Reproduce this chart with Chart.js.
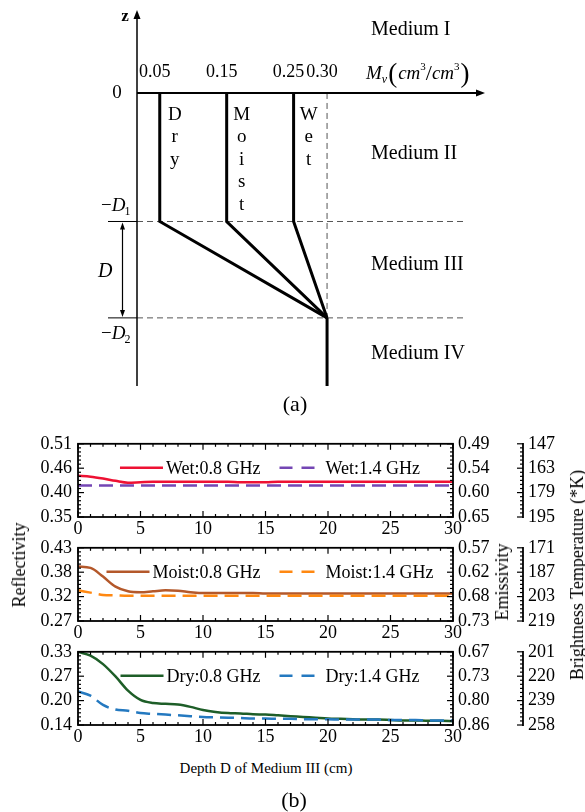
<!DOCTYPE html>
<html><head><meta charset="utf-8">
<script src="https://cdn.jsdelivr.net/npm/chart.js@4.4.1/dist/chart.umd.min.js"></script>
<style>
html,body{margin:0;padding:0;background:#fff;}
#wrap{position:relative;width:585px;height:812px;overflow:hidden;font-family:"Liberation Serif","Times New Roman",Times,serif;color:#000;background:#fff;}
canvas{position:absolute;left:0;}
.lbl{position:absolute;white-space:nowrap;transform:translate(-50%,-50%);line-height:1;}
.rot{transform:translate(-50%,-50%) rotate(-90deg);}
.pre{position:absolute;left:-999px;top:0;}
</style></head>
<body><div id="wrap">
<span class="pre" style="font-size:18px">0.51 Medium</span><span class="pre" style="font-size:18px;font-style:italic">M D</span><span class="pre" style="font-size:18px;font-weight:bold">z</span>
<canvas id="cA" style="top:0px;width:585px;height:420px" width="585" height="420"></canvas>
<canvas id="c1" style="top:427px;width:585px;height:112px" width="585" height="112"></canvas>
<canvas id="c2" style="top:531px;width:585px;height:112px" width="585" height="112"></canvas>
<canvas id="c3" style="top:635px;width:585px;height:112px" width="585" height="112"></canvas>
<div class="lbl" style="left:295px;top:404px;font-size:22px">(a)</div>
<div class="lbl rot" style="left:19px;top:565px;font-size:18px">Reflectivity</div>
<div class="lbl rot" style="left:502px;top:582px;font-size:18px">Emissivity</div>
<div class="lbl rot" style="left:577px;top:575px;font-size:18px">Brightness Temperature (*K)</div>
<div class="lbl" style="left:266px;top:768px;font-size:15px">Depth D of Medium III (cm)</div>
<div class="lbl" style="left:294px;top:800px;font-size:22px">(b)</div>
</div>
<script>
const FONT = '"Liberation Serif","Times New Roman",Times,serif';

// ---------------- (a) schematic data ----------------
const mvTickValues = [0.05, 0.15, 0.25, 0.30];
const mvTickLabels = ['0.05', '0.15', '0.25', '0.30'];
const profileNames = ['Dry', 'Moist', 'Wet'];
const profileMv = [0.05, 0.15, 0.25];
const deepMv = 0.30;
const depthLevels = [0, -1, -1.75, -2.28];   // surface, -D1, -D2, bottom of sketch
const mediumNames = ['Medium I', 'Medium II', 'Medium III', 'Medium IV'];

// ---------------- (b) data ----------------
const depthCm = [0,1,2,3,4,5,6,7,8,9,10,11,12,13,14,15,16,17,18,19,20,21,22,23,24,25,26,27,28,29,30];
const xTickValues = [0,5,10,15,20,25,30];
const xTickLabels = ['0','5','10','15','20','25','30'];

const wet08 = [0.440,0.438,0.434,0.429,0.425,0.426,0.427,0.427,0.427,0.427,0.427,0.427,0.427,0.426,0.426,0.426,0.427,0.427,0.427,0.427,0.427,0.427,0.427,0.427,0.427,0.427,0.427,0.427,0.427,0.427,0.427];
const wet14 = [0.419,0.419,0.419,0.419,0.419,0.419,0.419,0.419,0.419,0.419,0.419,0.419,0.419,0.419,0.419,0.419,0.419,0.419,0.419,0.419,0.419,0.419,0.419,0.419,0.419,0.419,0.419,0.419,0.419,0.419,0.419];
const moist08 = [0.389,0.386,0.367,0.345,0.335,0.333,0.335,0.337,0.336,0.333,0.331,0.331,0.331,0.331,0.331,0.330,0.330,0.330,0.330,0.330,0.330,0.330,0.330,0.330,0.330,0.330,0.330,0.330,0.330,0.330,0.330];
const moist14 = [0.337,0.332,0.327,0.326,0.325,0.325,0.325,0.325,0.325,0.325,0.325,0.325,0.325,0.325,0.325,0.325,0.325,0.325,0.325,0.325,0.325,0.325,0.325,0.325,0.325,0.325,0.325,0.325,0.325,0.325,0.325];
const dry08 = [0.330,0.320,0.298,0.266,0.229,0.205,0.197,0.195,0.193,0.187,0.179,0.174,0.171,0.170,0.168,0.167,0.165,0.163,0.161,0.159,0.157,0.156,0.155,0.154,0.154,0.153,0.152,0.152,0.151,0.151,0.150];
const dry14 = [0.227,0.216,0.192,0.180,0.177,0.171,0.169,0.167,0.165,0.163,0.161,0.160,0.159,0.158,0.157,0.157,0.156,0.156,0.155,0.155,0.155,0.154,0.154,0.154,0.154,0.153,0.153,0.153,0.152,0.152,0.152];

const reflRange = [[0.35,0.51],[0.27,0.43],[0.14,0.33]];
const reflTickLabels = [['0.51','0.46','0.40','0.35'],['0.43','0.38','0.32','0.27'],['0.33','0.27','0.20','0.14']];
const emisRange = [[0.49,0.65],[0.57,0.73],[0.67,0.86]];
const emisTickLabels = [['0.49','0.54','0.60','0.65'],['0.57','0.62','0.68','0.73'],['0.67','0.73','0.80','0.86']];
const btRange = [[147,195],[171,219],[201,258]];
const btTickLabels = [['147','163','179','195'],['171','187','203','219'],['201','220','239','258']];

const moistureNames = ['Wet','Moist','Dry'];
const freqLabels = ['0.8 GHz','1.4 GHz'];
const colors08 = ['#ee1133','#b4582a','#1e5e28'];
const colors14 = ['#7446b4','#ff8811','#2479c0'];
const series08 = [wet08, moist08, dry08];
const series14 = [wet14, moist14, dry14];

// ---------------- helpers ----------------
function line(ctx, x1, y1, x2, y2) { ctx.beginPath(); ctx.moveTo(x1, y1); ctx.lineTo(x2, y2); ctx.stroke(); }
function arrowHead(ctx, x, y, dir, len, half) {
  ctx.beginPath();
  if (dir === 'up') { ctx.moveTo(x, y); ctx.lineTo(x - half, y + len); ctx.lineTo(x + half, y + len); }
  if (dir === 'down') { ctx.moveTo(x, y); ctx.lineTo(x - half, y - len); ctx.lineTo(x + half, y - len); }
  if (dir === 'right') { ctx.moveTo(x, y); ctx.lineTo(x - len, y - half); ctx.lineTo(x - len, y + half); }
  ctx.closePath(); ctx.fill();
}

// ---------------- (a) plugin ----------------
const diagramPlugin = {
  id: 'diagram',
  beforeDatasetsDraw(chart) {
    const ctx = chart.ctx, a = chart.chartArea, xs = chart.scales.x, ys = chart.scales.y;
    ctx.save();
    const yD1 = ys.getPixelForValue(depthLevels[1]);
    const yD2 = ys.getPixelForValue(depthLevels[2]);
    const y0 = ys.getPixelForValue(depthLevels[0]);
    const xDeep = xs.getPixelForValue(deepMv);
    ctx.strokeStyle = '#000'; ctx.lineWidth = 1;
    line(ctx, 108, yD1, a.left, yD1);
    line(ctx, 108, yD2, a.left, yD2);
    ctx.strokeStyle = '#555'; ctx.setLineDash([6, 4]);
    line(ctx, a.left, yD1, 464, yD1);
    line(ctx, a.left, yD2, 464, yD2);
    line(ctx, xDeep, y0, xDeep, yD2);
    ctx.setLineDash([]);
    ctx.restore();
  },
  afterDatasetsDraw(chart) {
    const ctx = chart.ctx, a = chart.chartArea, xs = chart.scales.x, ys = chart.scales.y;
    ctx.save();
    ctx.fillStyle = '#000'; ctx.strokeStyle = '#000';
    const y0 = ys.getPixelForValue(depthLevels[0]);
    const yD1 = ys.getPixelForValue(depthLevels[1]);
    const yD2 = ys.getPixelForValue(depthLevels[2]);
    ctx.lineWidth = 1.5;
    line(ctx, a.left, a.bottom, a.left, a.top + 6);
    arrowHead(ctx, a.left, a.top - 2, 'up', 9, 3.5);
    ctx.lineWidth = 2;
    line(ctx, a.left, y0, a.right - 6, y0);
    arrowHead(ctx, a.right, y0, 'right', 9, 3.5);
    ctx.lineWidth = 1.2;
    line(ctx, 122.5, yD1 + 6, 122.5, yD2 - 6);
    arrowHead(ctx, 122.5, yD1 + 1, 'up', 7, 2.5);
    arrowHead(ctx, 122.5, yD2 - 1, 'down', 7, 2.5);
    ctx.textBaseline = 'middle';
    ctx.textAlign = 'center';
    ctx.font = 'bold 17px ' + FONT;
    ctx.fillText('z', 125, 17);
    ctx.font = '19px ' + FONT;
    ctx.fillText('0', 117, y0);
    ctx.font = '18px ' + FONT;
    mvTickValues.forEach((v, i) => ctx.fillText(mvTickLabels[i], xs.getPixelForValue(v) - 5, 72));
    ctx.textAlign = 'left';
    ctx.textBaseline = 'alphabetic';
    let x = 366;
    const base = 79;
    ctx.font = 'italic 19px ' + FONT; ctx.fillText('M', x, base); x += ctx.measureText('M').width;
    ctx.font = 'italic 12px ' + FONT; ctx.fillText('v', x, base + 4); x += ctx.measureText('v').width + 1;
    ctx.font = '27px ' + FONT; ctx.fillText('(', x, base + 3); x += ctx.measureText('(').width + 1;
    ctx.font = 'italic 19px ' + FONT; ctx.fillText('cm', x, base); x += ctx.measureText('cm').width;
    ctx.font = '11px ' + FONT; ctx.fillText('3', x, base - 9); x += ctx.measureText('3').width;
    ctx.font = '22px ' + FONT; ctx.fillText('/', x, base + 1); x += ctx.measureText('/').width;
    ctx.font = 'italic 19px ' + FONT; ctx.fillText('cm', x, base); x += ctx.measureText('cm').width;
    ctx.font = '11px ' + FONT; ctx.fillText('3', x, base - 9); x += ctx.measureText('3').width + 1;
    ctx.font = '27px ' + FONT; ctx.fillText(')', x, base + 3);
    function negD(xs0, yb, sub) {
      let xx = xs0;
      ctx.font = '19px ' + FONT; ctx.fillText('\u2212', xx, yb); xx += ctx.measureText('\u2212').width;
      ctx.font = 'italic 19px ' + FONT; ctx.fillText('D', xx, yb); xx += ctx.measureText('D').width - 1;
      ctx.font = '12px ' + FONT; ctx.fillText(sub, xx, yb + 4);
    }
    negD(101, yD1 - 10, '1');
    negD(101, yD2 + 21, '2');
    ctx.font = 'italic 20px ' + FONT; ctx.textBaseline = 'middle';
    ctx.fillText('D', 98, 272);
    ctx.font = '20px ' + FONT;
    const medY = [30, 154, 265, 354];
    mediumNames.forEach((m, i) => ctx.fillText(m, 371, medY[i]));
    ctx.textAlign = 'center';
    ctx.font = '19px ' + FONT;
    profileNames.forEach((nm, i) => {
      const lx = xs.getPixelForValue(profileMv[i]) + 15;
      nm.split('').forEach((ch, k) => ctx.fillText(ch, lx, 115 + k * 22.5));
    });
    ctx.restore();
  }
};

function makeDiagram() {
  const profileDatasets = profileMv.map((mv, i) => ({
    label: profileNames[i],
    data: [{x: mv, y: depthLevels[0]}, {x: mv, y: depthLevels[1]}, {x: deepMv, y: depthLevels[2]}],
    borderColor: '#000', borderWidth: 3, pointRadius: 0, showLine: true, tension: 0, clip: false,
    borderJoinStyle: 'miter'
  }));
  profileDatasets.push({
    label: 'Medium IV',
    data: [{x: deepMv, y: depthLevels[2]}, {x: deepMv, y: depthLevels[3]}],
    borderColor: '#000', borderWidth: 3, pointRadius: 0, showLine: true, tension: 0, clip: false
  });
  new Chart(document.getElementById('cA'), {
    type: 'scatter',
    data: {datasets: profileDatasets},
    options: {
      responsive: false, animation: false, devicePixelRatio: 1,
      layout: {padding: {left: 137, right: 100, top: 12, bottom: 34}},
      scales: {
        x: {type: 'linear', display: false, min: 0.016, max: 0.536},
        y: {type: 'linear', display: false, min: -2.28, max: 0.63}
      },
      plugins: {legend: {display: false}, tooltip: {enabled: false}}
    },
    plugins: [diagramPlugin]
  });
}

// ---------------- (b) panels ----------------
function makePanel(canvasId, idx) {
  const rr = reflRange[idx], er = emisRange[idx], br = btRange[idx];
  const reflVals = [0,1,2,3].map(k => rr[1] - k * (rr[1] - rr[0]) / 3);
  const emisVals = [0,1,2,3].map(k => er[0] + k * (er[1] - er[0]) / 3);
  const btVals = [0,1,2,3].map(k => br[0] + k * (br[1] - br[0]) / 3);
  const tickFont = {family: FONT, size: 18};
  const noGrid = {display: false, drawTicks: false};
  const noBorder = {display: false};
  const name = moistureNames[idx];

  const panelPlugin = {
    id: 'panelDeco' + idx,
    afterDraw(chart) {
      const ctx = chart.ctx, a = chart.chartArea;
      const xs = chart.scales.x, ys = chart.scales.y, bs = chart.scales.y2;
      ctx.save();
      ctx.strokeStyle = '#000'; ctx.lineWidth = 1.8;
      ctx.strokeRect(a.left, a.top, a.right - a.left, a.bottom - a.top);
      ctx.lineWidth = 1.2;
      for (let v = 0; v <= 30; v++) {
        const px = xs.getPixelForValue(v);
        const L = v % 5 === 0 ? 6 : 3;
        line(ctx, px, a.bottom, px, a.bottom - L);
        line(ctx, px, a.top, px, a.top + L);
      }
      for (let k = 0; k <= 18; k++) {
        const L = k % 6 === 0 ? 6 : 3;
        const py = ys.getPixelForValue(rr[0] + k * (rr[1] - rr[0]) / 18);
        line(ctx, a.left, py, a.left + L, py);
        line(ctx, a.right, py, a.right - L, py);
        const pb = bs.getPixelForValue(br[0] + k * (br[1] - br[0]) / 18);
        line(ctx, bs.left, pb, bs.left - L, pb);
      }
      ctx.lineWidth = 1.8;
      line(ctx, bs.left, a.top - 0.9, bs.left, a.bottom + 0.9);
      const ds = chart.data.datasets;
      ctx.font = '18px ' + FONT;
      ctx.textBaseline = 'middle'; ctx.textAlign = 'left';
      const t1 = ctx.measureText(ds[0].label).width, t2 = ctx.measureText(ds[1].label).width;
      const W = 43 + 3 + t1 + 19 + 35 + 11 + t2;
      const ly = a.top + 24;
      let x = 270 - W / 2;
      ctx.lineWidth = 2.5;
      ctx.strokeStyle = ds[0].borderColor;
      line(ctx, x, ly, x + 43, ly);
      ctx.fillStyle = '#000';
      ctx.fillText(ds[0].label, x + 46, ly + 1);
      x += 46 + t1 + 19;
      ctx.strokeStyle = ds[1].borderColor;
      ctx.setLineDash([13, 9]);
      line(ctx, x, ly, x + 35, ly);
      ctx.setLineDash([]);
      ctx.fillText(ds[1].label, x + 46, ly + 1);
      ctx.restore();
    }
  };

  return new Chart(document.getElementById(canvasId), {
    type: 'line',
    data: {
      datasets: [
        {label: name + ':' + freqLabels[0], data: depthCm.map((d, i) => ({x: d, y: series08[idx][i]})),
         borderColor: colors08[idx], borderWidth: 2.5, pointRadius: 0, cubicInterpolationMode: 'monotone', yAxisID: 'y', order: 2},
        {label: name + ':' + freqLabels[1], data: depthCm.map((d, i) => ({x: d, y: series14[idx][i]})),
         borderColor: colors14[idx], borderWidth: 2.5, borderDash: [14, 7], pointRadius: 0, cubicInterpolationMode: 'monotone', yAxisID: 'y', order: 1}
      ]
    },
    options: {
      responsive: false, animation: false, devicePixelRatio: 1,
      layout: {padding: {top: 10, left: 0, right: 0, bottom: 0}},
      plugins: {legend: {display: false}, tooltip: {enabled: false}},
      scales: {
        x: {type: 'linear', min: 0, max: 30, grid: noGrid, border: noBorder,
            ticks: {font: tickFont, color: '#000', padding: 1, maxRotation: 0, autoSkip: false,
                    callback: (v, i) => xTickLabels[i]},
            afterBuildTicks: s => { s.ticks = xTickValues.map(v => ({value: v})); },
            afterFit: s => { s.height = 22; }},
        y: {position: 'left', min: rr[0], max: rr[1], grid: noGrid, border: noBorder,
            ticks: {font: tickFont, color: '#000', padding: 6, autoSkip: false, callback: (v, i) => reflTickLabels[idx][i]},
            afterBuildTicks: s => { s.ticks = reflVals.map(v => ({value: v})); },
            afterFit: s => { s.width = 78; }},
        y1: {position: 'right', reverse: true, min: er[0], max: er[1], grid: noGrid, border: noBorder,
            ticks: {font: tickFont, color: '#000', padding: 5, autoSkip: false, callback: (v, i) => emisTickLabels[idx][i]},
            afterBuildTicks: s => { s.ticks = emisVals.map(v => ({value: v})); },
            afterFit: s => { s.width = 70; }},
        y2: {position: 'right', reverse: true, min: br[0], max: br[1], grid: noGrid, border: noBorder,
            ticks: {font: tickFont, color: '#000', padding: 5, autoSkip: false, callback: (v, i) => btTickLabels[idx][i]},
            afterBuildTicks: s => { s.ticks = btVals.map(v => ({value: v})); },
            afterFit: s => { s.width = 62; }}
      }
    },
    plugins: [panelPlugin]
  });
}

function init() {
  Chart.defaults.font.family = FONT;
  makeDiagram();
  makePanel('c1', 0);
  makePanel('c2', 1);
  makePanel('c3', 2);
}
const fontLoads = ['18px "Liberation Serif"', 'italic 18px "Liberation Serif"', 'bold 18px "Liberation Serif"']
  .map(f => document.fonts.load(f).catch(() => null));
Promise.all(fontLoads).then(init, init);
</script>
</body></html>
